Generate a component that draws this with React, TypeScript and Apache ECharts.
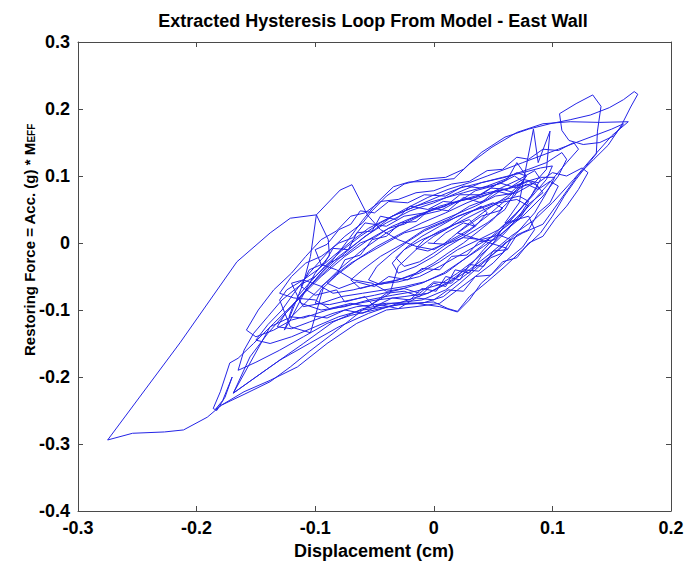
import React, { useEffect, useRef } from "react";
import * as echarts from "echarts";

const titleText = "Extracted Hysteresis Loop From Model - East Wall";
const xAxisName = "Displacement (cm)";
const yAxisNameMain = "Restoring Force = Acc. (g) * M";
const yAxisNameSub = "EFF";
const xTicks = [-0.3, -0.2, -0.1, 0, 0.1, 0.2];
const yTicks = [-0.4, -0.3, -0.2, -0.1, 0, 0.1, 0.2, 0.3];

// initial small cycles near origin
const phaseA: number[][] = [
  [0.000, 0.000], [0.010, 0.015], [0.025, 0.030], [0.035, 0.025], [0.045, 0.045], [0.040, 0.055], [0.025, 0.040], [0.010, 0.020], [-0.010, 0.005], [-0.025, -0.010], [-0.035, -0.030], [-0.030, -0.045], [-0.015, -0.035], [0.000, -0.020], [0.012, -0.005], [0.028, 0.012], [0.045, 0.030], [0.060, 0.050], [0.068, 0.075], [0.058, 0.080], [0.045, 0.065], [0.030, 0.055], [0.012, 0.035], [-0.008, 0.020], [-0.025, 0.000], [-0.045, -0.020], [-0.060, -0.040], [-0.070, -0.055], [-0.062, -0.068], [-0.045, -0.060], [-0.030, -0.055], [-0.012, -0.045], [0.005, -0.028], [0.020, -0.010], [0.038, 0.005], [0.055, 0.020], [0.070, 0.045], [0.082, 0.070], [0.090, 0.095], [0.085, 0.108], [0.072, 0.095], [0.060, 0.085], [0.045, 0.072], [0.028, 0.060], [0.010, 0.045], [-0.010, 0.030], [-0.030, 0.012], [-0.048, -0.005], [-0.065, -0.025], [-0.082, -0.048], [-0.095, -0.070], [-0.100, -0.090], [-0.088, -0.092], [-0.070, -0.085], [-0.050, -0.078], [-0.030, -0.070], [-0.010, -0.060], [0.008, -0.045], [0.025, -0.025], [0.042, -0.005], [0.058, 0.015], [0.075, 0.040], [0.092, 0.070], [0.105, 0.100], [0.112, 0.125], [0.108, 0.135], [0.095, 0.120], [0.080, 0.110], [0.060, 0.098], [0.040, 0.090], [0.020, 0.075], [0.000, 0.060], [-0.020, 0.048], [-0.040, 0.030], [-0.058, 0.010], [-0.075, -0.015], [-0.090, -0.040], [-0.105, -0.065], [-0.118, -0.090], [-0.122, -0.110], [-0.110, -0.112], [-0.090, -0.100], [-0.070, -0.092], [-0.048, -0.085], [-0.025, -0.080], [-0.005, -0.075], [0.012, -0.060], [0.030, -0.040], [0.048, -0.015], [0.065, 0.010], [0.085, 0.035],
];

// positive excursion with flat return near 0.18
const phaseB: number[][] = [
  [0.100, 0.060], [0.118, 0.095], [0.135, 0.130], [0.150, 0.160], [0.164, 0.181], [0.140, 0.180], [0.115, 0.181], [0.092, 0.178], [0.070, 0.165], [0.049, 0.143], [0.030, 0.118], [0.017, 0.096], [-0.005, 0.092], [-0.021, 0.091], [-0.034, 0.084], [-0.048, 0.060], [-0.060, 0.034], [-0.072, 0.005], [-0.085, -0.025], [-0.100, -0.055], [-0.112, -0.080], [-0.125, -0.105], [-0.132, -0.125], [-0.120, -0.128], [-0.105, -0.118], [-0.085, -0.105], [-0.065, -0.095], [-0.040, -0.090], [-0.015, -0.090], [0.005, -0.095], [0.020, -0.103], [0.030, -0.085], [0.040, -0.060], [0.050, -0.045], [0.062, -0.025], [0.075, -0.006], [0.085, 0.020], [0.080, 0.040], [0.070, 0.035], [0.060, 0.030], [0.072, 0.060], [0.084, 0.170], [0.088, 0.120], [0.098, 0.167], [0.095, 0.110], [0.085, 0.090], [0.070, 0.075], [0.052, 0.070], [0.035, 0.055], [0.015, 0.040], [-0.005, 0.025], [-0.025, 0.015], [-0.040, 0.000], [-0.055, -0.015], [-0.070, -0.030], [-0.085, -0.050], [-0.095, -0.065], [-0.085, -0.075], [-0.068, -0.070], [-0.050, -0.062], [-0.030, -0.058], [-0.012, -0.050], [0.005, -0.035], [0.020, -0.020], [0.035, -0.005], [0.050, 0.010], [0.065, 0.030], [0.080, 0.055],
];

// large negative excursion and left lobes
const phaseC: number[][] = [
  [0.070, 0.065], [0.055, 0.060], [0.040, 0.048], [0.020, 0.030], [0.000, 0.010], [-0.015, -0.010], [-0.030, -0.035], [-0.037, -0.075], [-0.060, -0.100], [-0.085, -0.135], [-0.105, -0.162], [-0.121, -0.185], [-0.138, -0.207], [-0.160, -0.226], [-0.179, -0.242], [-0.191, -0.260], [-0.211, -0.279], [-0.227, -0.282], [-0.254, -0.284], [-0.275, -0.294], [-0.214, -0.149], [-0.166, -0.028], [-0.138, 0.015], [-0.121, 0.037], [-0.099, 0.042], [-0.089, 0.005], [-0.088, -0.019], [-0.100, -0.045], [-0.108, -0.070], [-0.121, -0.115], [-0.126, -0.130], [-0.118, -0.095], [-0.110, -0.060], [-0.104, -0.020], [-0.099, 0.042], [-0.079, 0.079], [-0.069, 0.087], [-0.056, 0.042], [-0.045, 0.020], [-0.030, 0.005], [-0.015, -0.005], [0.000, -0.010], [0.015, 0.005], [0.030, 0.020], [0.045, 0.040], [0.058, 0.060], [0.070, 0.080], [0.078, 0.100], [0.070, 0.105],
];

// medium cycles with lower-left V and narrow spike
const phaseD: number[][] = [
  [0.060, 0.095], [0.045, 0.085], [0.025, 0.075], [0.005, 0.065], [-0.015, 0.055], [-0.035, 0.040], [-0.050, 0.020], [-0.065, 0.000], [-0.080, -0.020], [-0.095, -0.045], [-0.110, -0.075], [-0.125, -0.105], [-0.140, -0.135], [-0.155, -0.170], [-0.169, -0.224], [-0.138, -0.185], [-0.110, -0.150], [-0.085, -0.118], [-0.060, -0.098], [-0.035, -0.090], [-0.010, -0.085], [0.010, -0.070], [0.025, -0.050], [0.040, -0.030], [0.055, -0.010], [0.070, 0.015], [0.085, 0.045], [0.095, 0.075], [0.102, 0.098], [0.090, 0.098], [0.075, 0.090], [0.060, 0.080], [0.040, 0.070], [0.020, 0.062], [0.000, 0.050], [-0.020, 0.035], [-0.040, 0.015], [-0.060, -0.010], [-0.080, -0.040], [-0.100, -0.075], [-0.120, -0.110], [-0.138, -0.125], [-0.169, -0.224], [-0.150, -0.200], [-0.130, -0.175], [-0.105, -0.150], [-0.080, -0.125], [-0.055, -0.105], [-0.030, -0.090], [-0.005, -0.075], [0.015, -0.055], [0.030, -0.035], [0.042, -0.010], [0.055, 0.015], [0.068, 0.040], [0.080, 0.065], [0.088, 0.085], [0.080, 0.092], [0.065, 0.082], [0.045, 0.075], [0.025, 0.065], [0.005, 0.055], [-0.015, 0.040], [-0.035, 0.025], [-0.055, 0.005], [-0.075, -0.020], [-0.095, -0.050], [-0.115, -0.085], [-0.135, -0.120], [-0.152, -0.150], [-0.165, -0.172], [-0.172, -0.179], [-0.180, -0.222], [-0.186, -0.247], [-0.183, -0.250], [-0.176, -0.230], [-0.170, -0.200], [-0.178, -0.235], [-0.184, -0.248], [-0.179, -0.242], [-0.160, -0.222], [-0.138, -0.205], [-0.115, -0.185], [-0.090, -0.150], [-0.065, -0.120], [-0.040, -0.100], [-0.015, -0.095], [0.005, -0.090], [0.020, -0.070], [0.035, -0.050], [0.050, -0.030], [0.062, -0.008],
];

// jagged mid-size cycles in the central band
const phaseG: number[][] = [
  [0.020, 0.015], [0.040, 0.040], [0.055, 0.048], [0.068, 0.070], [0.078, 0.100], [0.070, 0.120], [0.062, 0.095], [0.050, 0.085], [0.035, 0.078], [0.020, 0.060], [0.008, 0.062], [-0.005, 0.050], [-0.020, 0.055], [-0.032, 0.035], [-0.045, 0.040], [-0.052, 0.018], [-0.065, 0.015], [-0.072, -0.010], [-0.085, -0.008], [-0.092, -0.030], [-0.105, -0.040], [-0.112, -0.065], [-0.100, -0.078], [-0.082, -0.070], [-0.075, -0.088], [-0.058, -0.080], [-0.050, -0.095], [-0.035, -0.082], [-0.020, -0.085], [-0.010, -0.068], [0.002, -0.072], [0.010, -0.050], [0.022, -0.055], [0.030, -0.032], [0.042, -0.035], [0.050, -0.012], [0.062, -0.010], [0.070, 0.012], [0.080, 0.020], [0.088, 0.045], [0.098, 0.060], [0.105, 0.085], [0.098, 0.092], [0.088, 0.080], [0.078, 0.088], [0.065, 0.072], [0.052, 0.078], [0.040, 0.060], [0.025, 0.068], [0.012, 0.048], [-0.002, 0.052], [-0.015, 0.032], [-0.028, 0.030], [-0.040, 0.010], [-0.052, 0.005], [-0.062, -0.018], [-0.075, -0.025], [-0.082, -0.048], [-0.090, -0.060], [-0.080, -0.068], [-0.065, -0.058], [-0.050, -0.065], [-0.038, -0.050], [-0.022, -0.055], [-0.010, -0.038], [0.005, -0.040], [0.015, -0.020], [0.028, -0.018], [0.038, 0.002], [0.052, 0.005], [0.060, 0.028], [0.072, 0.035], [0.080, 0.058], [0.092, 0.075], [0.085, 0.090], [0.070, 0.082], [0.055, 0.090], [0.040, 0.072], [0.022, 0.072], [0.010, 0.055], [-0.008, 0.045], [-0.025, 0.040], [-0.040, 0.025], [-0.058, 0.030], [-0.068, 0.008], [-0.080, 0.000], [-0.095, -0.020], [-0.108, -0.030], [-0.120, -0.050], [-0.130, -0.075], [-0.118, -0.082], [-0.100, -0.085], [-0.088, -0.098], [-0.070, -0.090], [-0.055, -0.095], [-0.040, -0.075], [-0.025, -0.072], [-0.012, -0.080], [0.000, -0.060], [0.010, -0.065], [0.018, -0.040], [0.030, -0.045], [0.040, -0.020],
];

// wider jagged cycles reaching the lower-left band
const phaseH: number[][] = [
  [0.055, 0.010], [0.070, 0.035], [0.085, 0.065], [0.100, 0.095], [0.112, 0.120], [0.122, 0.140], [0.118, 0.150], [0.105, 0.138], [0.092, 0.140], [0.080, 0.125], [0.070, 0.128], [0.058, 0.110], [0.045, 0.108], [0.030, 0.092], [0.015, 0.088], [0.000, 0.078], [-0.015, 0.075], [-0.030, 0.065], [-0.045, 0.062], [-0.058, 0.045], [-0.070, 0.040], [-0.082, 0.018], [-0.095, 0.005], [-0.108, -0.020], [-0.120, -0.045], [-0.135, -0.070], [-0.148, -0.100], [-0.158, -0.130], [-0.150, -0.140], [-0.135, -0.130], [-0.120, -0.115], [-0.105, -0.108], [-0.090, -0.112], [-0.075, -0.100], [-0.060, -0.105], [-0.045, -0.092], [-0.030, -0.098], [-0.015, -0.082], [0.000, -0.085], [0.012, -0.070], [0.025, -0.072], [0.035, -0.050], [0.048, -0.048], [0.058, -0.028], [0.070, -0.022], [0.080, 0.000], [0.092, 0.010], [0.102, 0.035], [0.112, 0.055], [0.122, 0.080], [0.130, 0.105], [0.125, 0.112], [0.112, 0.100], [0.100, 0.105], [0.088, 0.090], [0.075, 0.095], [0.062, 0.080], [0.048, 0.082], [0.035, 0.068], [0.020, 0.062], [0.005, 0.048], [-0.010, 0.042], [-0.025, 0.028], [-0.038, 0.022], [-0.050, 0.008], [-0.062, 0.000], [-0.075, -0.018], [-0.088, -0.030], [-0.100, -0.050], [-0.112, -0.062], [-0.128, -0.085], [-0.140, -0.110], [-0.152, -0.135], [-0.160, -0.160], [-0.165, -0.190], [-0.150, -0.178], [-0.130, -0.160], [-0.110, -0.140], [-0.090, -0.120], [-0.070, -0.108], [-0.050, -0.100], [-0.030, -0.092], [-0.010, -0.090], [0.008, -0.080], [0.022, -0.060], [0.035, -0.040], [0.048, -0.020], [0.060, 0.000],
];

// largest positive excursion (tip) and top-right polygon
const phaseE: number[][] = [
  [0.075, 0.015], [0.092, 0.028], [0.105, 0.060], [0.121, 0.100], [0.135, 0.125], [0.147, 0.146], [0.158, 0.175], [0.166, 0.203], [0.172, 0.222], [0.169, 0.226], [0.160, 0.214], [0.148, 0.202], [0.132, 0.191], [0.115, 0.184], [0.098, 0.178], [0.080, 0.170], [0.060, 0.158], [0.040, 0.135], [0.025, 0.110], [0.010, 0.098], [-0.010, 0.095], [-0.025, 0.088], [-0.040, 0.070], [-0.052, 0.048], [-0.060, 0.030], [-0.075, 0.010], [-0.090, -0.015], [-0.105, -0.045], [-0.118, -0.075], [-0.128, -0.100], [-0.140, -0.122], [-0.150, -0.145], [-0.138, -0.150], [-0.120, -0.140], [-0.100, -0.125], [-0.080, -0.110], [-0.060, -0.100], [-0.040, -0.095], [-0.020, -0.090], [0.000, -0.088], [0.012, -0.098], [0.020, -0.102], [0.030, -0.080], [0.045, -0.058], [0.060, -0.035], [0.075, -0.010], [0.090, 0.015], [0.100, 0.040], [0.110, 0.070], [0.120, 0.095], [0.130, 0.118], [0.137, 0.133], [0.138, 0.167], [0.141, 0.204], [0.134, 0.221], [0.120, 0.208], [0.106, 0.193], [0.108, 0.168], [0.114, 0.153], [0.126, 0.147], [0.140, 0.150], [0.152, 0.160], [0.160, 0.178], [0.150, 0.170], [0.135, 0.160], [0.120, 0.150], [0.105, 0.140], [0.090, 0.130], [0.075, 0.120], [0.060, 0.110], [0.045, 0.100], [0.030, 0.090], [0.012, 0.080], [-0.005, 0.068], [-0.025, 0.050], [-0.045, 0.030], [-0.062, 0.010], [-0.078, -0.012], [-0.092, -0.035], [-0.105, -0.060], [-0.115, -0.080], [-0.110, -0.095], [-0.095, -0.090], [-0.078, -0.080], [-0.060, -0.075], [-0.042, -0.070], [-0.025, -0.065], [-0.008, -0.058], [0.010, -0.045], [0.025, -0.025], [0.040, -0.005], [0.055, 0.020], [0.070, 0.045], [0.083, 0.070], [0.095, 0.095], [0.100, 0.115],
];

// decaying cycles toward the origin
const phaseF: number[][] = [
  [0.090, 0.112], [0.075, 0.105], [0.058, 0.098], [0.040, 0.090], [0.022, 0.082], [0.005, 0.070], [-0.015, 0.055], [-0.035, 0.040], [-0.055, 0.022], [-0.070, 0.002], [-0.085, -0.020], [-0.098, -0.040], [-0.110, -0.055], [-0.124, -0.070], [-0.130, -0.085], [-0.121, -0.125], [-0.104, -0.134], [-0.093, -0.066], [-0.110, -0.055], [-0.120, -0.060], [-0.112, -0.090], [-0.095, -0.100], [-0.075, -0.095], [-0.055, -0.085], [-0.035, -0.078], [-0.015, -0.072], [0.005, -0.062], [0.020, -0.045], [0.035, -0.025], [0.048, -0.005], [0.060, 0.015], [0.072, 0.040], [0.080, 0.062], [0.072, 0.070], [0.060, 0.065], [0.045, 0.055], [0.028, 0.045], [0.010, 0.032], [-0.008, 0.018], [-0.022, 0.002], [-0.035, -0.015], [-0.048, -0.035], [-0.055, -0.055], [-0.045, -0.062], [-0.030, -0.055], [-0.015, -0.045], [0.000, -0.030], [0.012, -0.015], [0.025, 0.000], [0.038, 0.018], [0.050, 0.035], [0.058, 0.052], [0.050, 0.060], [0.035, 0.050], [0.020, 0.040], [0.005, 0.025], [-0.010, 0.010], [-0.022, -0.005], [-0.032, -0.022], [-0.025, -0.035], [-0.012, -0.028], [0.000, -0.015], [0.012, 0.000], [0.025, 0.012], [0.035, 0.025], [0.030, 0.035], [0.018, 0.028], [0.005, 0.018], [-0.008, 0.005], [-0.015, -0.008], [-0.005, -0.012], [0.008, -0.002], [0.015, 0.008],
];

// final small jagged cycles
const phaseI: number[][] = [
  [0.030, 0.030], [0.045, 0.050], [0.062, 0.070], [0.075, 0.092], [0.068, 0.100], [0.055, 0.088], [0.040, 0.082], [0.025, 0.085], [0.010, 0.070], [-0.008, 0.072], [-0.022, 0.060], [-0.038, 0.062], [-0.050, 0.045], [-0.062, 0.048], [-0.070, 0.028], [-0.080, 0.020], [-0.090, -0.002], [-0.100, -0.010], [-0.095, -0.032], [-0.082, -0.040], [-0.068, -0.055], [-0.052, -0.060], [-0.040, -0.072], [-0.025, -0.068], [-0.012, -0.075], [0.000, -0.058], [0.015, -0.060], [0.025, -0.040], [0.038, -0.042], [0.048, -0.022], [0.058, -0.015], [0.065, 0.005], [0.055, 0.012], [0.040, 0.005], [0.025, 0.008], [0.010, -0.002], [-0.005, 0.000],
];

const loopData = [...phaseA, ...phaseB, ...phaseC, ...phaseD, ...phaseG, ...phaseH, ...phaseE, ...phaseF, ...phaseI];

const FONT = "'Liberation Sans', Arial, Helvetica, sans-serif";
const fmt = (v: number) => {
  const r = Math.round(v * 10) / 10;
  return r === 0 ? "0" : String(r);
};

export default function App() {
  const ref = useRef<HTMLDivElement>(null);
  useEffect(() => {
    if (!ref.current) return;
    const chart = echarts.init(ref.current, undefined, { renderer: "svg" });
    const axisLine = { show: true, onZero: false, lineStyle: { color: "#4a4a4a", width: 1 } };
    const tick = { show: true, inside: true, length: 5, lineStyle: { color: "#4a4a4a" } };
    const label = { color: "#000", fontSize: 18, fontWeight: "bold" as const, fontFamily: FONT, formatter: fmt };
    const xBase = { type: "value" as const, min: xTicks[0], max: xTicks[xTicks.length - 1], interval: 0.1, splitLine: { show: false }, axisLine, axisTick: tick };
    const yBase = { type: "value" as const, min: yTicks[0], max: yTicks[yTicks.length - 1], interval: 0.1, splitLine: { show: false }, axisLine, axisTick: tick };
    chart.setOption({
      animation: false,
      backgroundColor: "#ffffff",
      grid: { left: 78, right: 16, top: 42, bottom: 53, containLabel: false },
      xAxis: [
        { ...xBase, position: "bottom", axisLabel: { ...label, margin: 8 } },
        { ...xBase, position: "top", axisLabel: { show: false } },
      ],
      yAxis: [
        { ...yBase, position: "left", axisLabel: { ...label, margin: 8 } },
        { ...yBase, position: "right", axisLabel: { show: false } },
      ],
      series: [
        {
          type: "line",
          xAxisIndex: 0,
          yAxisIndex: 0,
          data: loopData,
          showSymbol: false,
          symbol: "none",
          lineStyle: { color: "#2424e6", width: 1 },
          itemStyle: { color: "#2424e6" },
        },
      ],
      graphic: [
        {
          type: "text",
          x: 373,
          y: 21,
          style: { text: titleText, fill: "#000", font: `bold 18px ${FONT}`, align: "center", verticalAlign: "middle" },
        },
        {
          type: "text",
          x: 374,
          y: 551,
          style: { text: xAxisName, fill: "#000", font: `bold 18px ${FONT}`, align: "center", verticalAlign: "middle" },
        },
        {
          type: "text",
          x: 29,
          y: 240,
          rotation: Math.PI / 2,
          style: {
            text: `{a|${yAxisNameMain}}{b|${yAxisNameSub}}`,
            align: "center",
            verticalAlign: "middle",
            rich: {
              a: { fontSize: 15, fontWeight: "bold", fontFamily: FONT, fill: "#000", color: "#000" },
              b: { fontSize: 10, fontWeight: "bold", fontFamily: FONT, fill: "#000", color: "#000", verticalAlign: "bottom" },
            },
          },
        },
      ],
    });
    return () => chart.dispose();
  }, []);
  return <div ref={ref} style={{ position: "fixed", left: 0, top: 0, width: 687, height: 564, background: "#fff" }} />;
}
